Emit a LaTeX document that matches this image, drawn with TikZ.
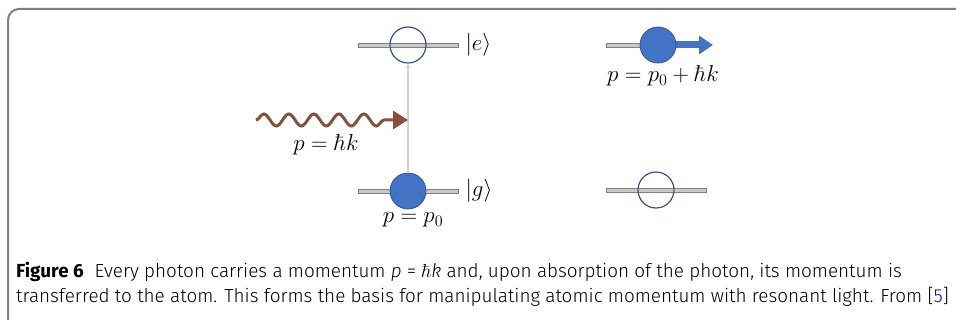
\RequirePackage{fix-cm}
\documentclass[tikz,border=0pt]{standalone}
\usepackage[no-math]{fontspec}
\setmainfont{Fira Sans}[UprightFont=*-Light, BoldFont=*-Bold, ItalicFont=*-Light Italic]
\usepackage{tikz}
\usetikzlibrary{arrows.meta, decorations.pathmorphing, positioning}
\definecolor{atomblue}{HTML}{4472C4}
\definecolor{atomedge}{HTML}{2F5597}
\definecolor{photonbrown}{HTML}{85513F}
\definecolor{bargray}{HTML}{A6A6A6}
\definecolor{framegray}{HTML}{7F7F7F}
\tikzset{
	levelbar/.style={
			shape=rectangle,
			draw=gray,
			fill=bargray!60,
			line width=0.8pt,
			minimum width=100pt,
			minimum height=4pt,
			inner sep=0pt
		},
	atomfull/.style={
			circle,
			draw=atomedge,
			fill=atomblue,
			line width=0.8pt,
			minimum size=36pt,
			inner sep=0pt
		},
	atomhollow/.style={
			atomfull,
			fill=none,
			line width=1.2pt
		},
	labeltext/.style={font=\fontsize{23}{26}\selectfont, inner sep=1pt}
}
\begin{document}
\begin{tikzpicture}[x=1pt, y=-1pt]
	\clip (0,0) rectangle (956,320);

	% frame round the figure
	\draw[framegray, line width=2pt, rounded corners=11pt] (8,340) -- (8,9) -- (980,9);

	% left: absorption
	\node[levelbar] (eline) at (408,45) {};
	\node[levelbar] (gline) at (408,191) {};
	\node[atomhollow] (eatom) at (408,45) {};
	\node[atomfull] (gatom) at (408,191) {};
	\node[labeltext, right=6pt of eline] (eket) {$|e\rangle$};
	\node[labeltext, right=6pt of gline] (gket) {$|g\rangle$};
	\node[labeltext] (gmom) at (413,220) {$p=p_0$};

	\draw[black!18, line width=1.2pt, -{Stealth[length=5pt, width=4pt]}] (gatom) -- (eatom);

	\coordinate (photonstart) at (256,120);
	\coordinate (photonend) at (408,120);
	\draw[photonbrown, line width=3pt,
		decoration={snake, amplitude=6pt, segment length=25pt, post length=16pt},
		decorate, -{Triangle[length=15pt, width=18pt]}] (photonstart) -- (photonend);
	\node[labeltext] (photonmom) at (326,145) {$p=\hbar k$};

	% right: after absorption
	\node[levelbar] (eline2) at (656,45) {};
	\node[fill=white, minimum width=60pt, minimum height=10pt, inner sep=0pt] (eclear) at (690,45) {};
	\node[levelbar] (gline2) at (656,190) {};
	\node[atomhollow] (gatom2) at (656,190) {};
	\coordinate (kickend) at (713,45);
	\draw[atomblue, line width=7pt, -{Triangle[length=14pt, width=18pt]}] (658,45) -- (kickend);
	\node[atomfull] (kickatom) at (658,45) {};
	\node[labeltext] (kickmom) at (663,76) {$p=p_0+\hbar k$};

	% caption
	\node[anchor=north west, align=left, inner sep=0pt, font=\fontsize{18.9}{25}\selectfont]
		(caption) at (16,262) {%
		\textbf{Figure 6}\hspace{0.3em} Every photon carries a momentum \textit{p} = $\hbar$\textit{k} and, upon absorption of the photon, its momentum is\\
		transferred to the atom. This forms the basis for manipulating atomic momentum with resonant light. From [\textcolor{blue}{5}]};
\end{tikzpicture}
\end{document}
